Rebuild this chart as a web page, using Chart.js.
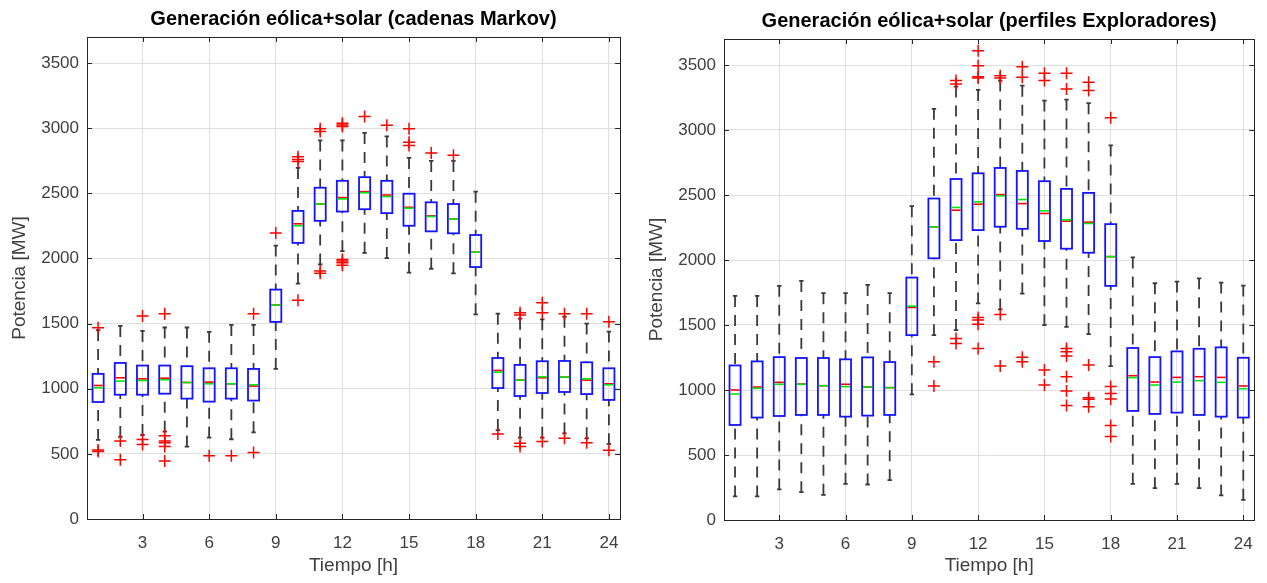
<!DOCTYPE html>
<html>
<head>
<meta charset="utf-8">
<script src="https://cdn.jsdelivr.net/npm/chart.js@4.4.0/dist/chart.umd.min.js"></script>
<style>
    body { margin: 0; background: #fff; }
    #wrap { position: relative; width: 1267px; height: 583px; }
    canvas { position: absolute; top: 0; }
</style>
</head>
<body>
<div id="wrap">
    <canvas id="chartMarkov" width="633" height="583" style="left:0"></canvas>
    <canvas id="chartExpl" width="634" height="583" style="left:633px"></canvas>
</div>
<script>
// horas y ticks
var hours = [1, 2, 3, 4, 5, 6, 7, 8, 9, 10, 11, 12, 13, 14, 15, 16, 17, 18, 19, 20, 21, 22, 23, 24];
var xTicks = [3, 6, 9, 12, 15, 18, 21, 24];
var yTicks = [0, 500, 1000, 1500, 2000, 2500, 3000, 3500];

// cadenas Markov
var mkQ1 = [898, 954, 954, 962, 924, 901, 924, 909, 1513, 2119, 2289, 2360, 2378, 2348, 2251, 2208, 2193, 1934, 1005, 944, 967, 975, 959, 914];
var mkQ3 = [1114, 1198, 1178, 1178, 1173, 1157, 1157, 1152, 1761, 2365, 2543, 2596, 2624, 2596, 2497, 2431, 2418, 2180, 1236, 1183, 1211, 1213, 1203, 1157];
var mkMed = [1025, 1084, 1076, 1081, 1048, 1051, 1038, 1020, 1642, 2266, 2419, 2467, 2513, 2487, 2393, 2327, 2302, 2048, 1140, 1066, 1084, 1089, 1066, 1038];
var mkMean = [1008, 1058, 1063, 1069, 1048, 1038, 1038, 1030, 1642, 2251, 2419, 2457, 2505, 2475, 2386, 2322, 2302, 2048, 1127, 1066, 1091, 1089, 1076, 1030];
var mkLo = [607, 630, 645, 670, 556, 624, 612, 665, 1152, 1807, 1954, 2056, 2043, 2003, 1891, 1921, 1886, 1571, 683, 624, 624, 657, 619, 574];
var mkHi = [1450, 1482, 1444, 1470, 1470, 1437, 1490, 1490, 2099, 2695, 2906, 2906, 2964, 2937, 2772, 2749, 2749, 2513, 1576, 1538, 1533, 1553, 1500, 1439];
var mkOut = [
    [1468, 530, 518], [599, 454], [1558, 610, 572], [1576, 640, 598, 586, 556, 445],
    [], [485], [485], [1576, 510], [2195], [2780, 2760, 2745, 1680],
    [2995, 2975, 1904, 1886], [3038, 3025, 3013, 1992, 1980, 1967, 1947], [3089], [3023],
    [2995, 2893, 2868], [2810], [2792], [], [652], [1584, 1566, 581, 556],
    [1660, 1584, 594], [1576, 619], [1576, 586], [1515, 528]
];

// perfiles Exploradores
var exQ1 = [731, 788, 800, 808, 808, 795, 803, 808, 1422, 2013, 2153, 2230, 2256, 2240, 2146, 2087, 2056, 1801, 839, 816, 826, 808, 795, 788];
var exQ3 = [1189, 1220, 1253, 1246, 1246, 1236, 1251, 1215, 1865, 2473, 2623, 2667, 2708, 2685, 2606, 2547, 2516, 2276, 1323, 1253, 1297, 1317, 1328, 1248];
var exMed = [1000, 1023, 1059, 1046, 1033, 1044, 1023, 1018, 1635, 2255, 2383, 2429, 2503, 2434, 2358, 2299, 2291, 2026, 1110, 1061, 1097, 1102, 1097, 1031];
var exMean = [969, 1013, 1044, 1044, 1033, 1026, 1023, 1018, 1645, 2255, 2404, 2447, 2493, 2465, 2378, 2309, 2281, 2026, 1095, 1038, 1061, 1072, 1059, 1010];
var exLo = [181, 181, 235, 214, 194, 278, 273, 306, 967, 1422, 1461, 1666, 1620, 1742, 1499, 1486, 1430, 1184, 278, 245, 278, 245, 189, 155];
var exHi = [1724, 1724, 1801, 1839, 1745, 1745, 1808, 1745, 2414, 3163, 3334, 3308, 3380, 3341, 3226, 3234, 3206, 2881, 2020, 1821, 1834, 1859, 1826, 1803];
var exOut = [
    [], [], [], [], [], [], [], [], [], [1218, 1031],
    [3380, 3354, 1397, 1358], [3610, 3495, 3410, 3400, 1558, 1538, 1505, 1320],
    [3418, 3400, 1581, 1184], [3487, 3405, 1251, 1218], [3436, 3380, 1154, 1038],
    [3436, 3316, 1320, 1294, 1261, 1102, 992, 880], [3367, 3303, 1192, 941, 928, 872],
    [3094, 1026, 974, 931, 726, 642], [], [], [], [], [], []
];

var FONT = "'Liberation Sans', Arial, sans-serif";
var AXIS_COLOR = '#262626';
var TEXT_COLOR = '#404040';

// cajas, bigotes, mediana y media
var boxPlugin = {
    id: 'boxes',
    beforeDatasetsDraw: function (chart, args, opts) {
        var ctx = chart.ctx, xs = chart.scales.x, ys = chart.scales.y;
        ctx.save();
        hours.forEach(function (h, i) {
            var xc = xs.getPixelForValue(h);
            var xl = xs.getPixelForValue(h - 0.25), xr = xs.getPixelForValue(h + 0.25);
            var cl = xs.getPixelForValue(h - 0.1), cr = xs.getPixelForValue(h + 0.1);
            var yq1 = ys.getPixelForValue(opts.q1[i]), yq3 = ys.getPixelForValue(opts.q3[i]);
            var ylo = ys.getPixelForValue(opts.lo[i]), yhi = ys.getPixelForValue(opts.hi[i]);
            // bigotes
            ctx.strokeStyle = '#3a3a3a';
            ctx.lineWidth = 1.8;
            ctx.setLineDash([11, 8]);
            ctx.beginPath();
            ctx.moveTo(xc, yhi); ctx.lineTo(xc, yq3);
            ctx.moveTo(xc, ylo); ctx.lineTo(xc, yq1);
            ctx.stroke();
            ctx.setLineDash([]);
            ctx.beginPath();
            ctx.moveTo(cl, yhi); ctx.lineTo(cr, yhi);
            ctx.moveTo(cl, ylo); ctx.lineTo(cr, ylo);
            ctx.stroke();
            // caja
            ctx.strokeStyle = 'rgb(20,20,255)';
            ctx.lineWidth = 1.8;
            ctx.strokeRect(xl, yq3, xr - xl, yq1 - yq3);
            // mediana
            var ym = ys.getPixelForValue(opts.med[i]);
            ctx.lineWidth = 1.6;
            ctx.strokeStyle = 'rgb(255,0,0)';
            ctx.beginPath(); ctx.moveTo(xl + 1, ym); ctx.lineTo(xr - 1, ym); ctx.stroke();
            // media
            var ya = ys.getPixelForValue(opts.mean[i]);
            ctx.strokeStyle = 'rgb(0,235,0)';
            ctx.beginPath(); ctx.moveTo(xl + 1, ya); ctx.lineTo(xr - 1, ya); ctx.stroke();
        });
        ctx.restore();
    },
    afterDraw: function (chart) {
        var ctx = chart.ctx, a = chart.chartArea, xs = chart.scales.x, ys = chart.scales.y;
        ctx.save();
        ctx.strokeStyle = AXIS_COLOR;
        ctx.lineWidth = 1;
        ctx.strokeRect(Math.round(a.left) + 0.5, Math.round(a.top) + 0.5, Math.round(a.right - a.left), Math.round(a.bottom - a.top));
        ctx.beginPath();
        xTicks.forEach(function (t) {
            var x = Math.round(xs.getPixelForValue(t)) + 0.5;
            ctx.moveTo(x, a.bottom); ctx.lineTo(x, a.bottom - 5);
            ctx.moveTo(x, a.top); ctx.lineTo(x, a.top + 5);
        });
        yTicks.forEach(function (t) {
            var y = Math.round(ys.getPixelForValue(t)) + 0.5;
            ctx.moveTo(a.left, y); ctx.lineTo(a.left + 5, y);
            ctx.moveTo(a.right, y); ctx.lineTo(a.right - 5, y);
        });
        ctx.stroke();
        ctx.restore();
    }
};

function outlierPoints(outs) {
    var pts = [];
    outs.forEach(function (list, i) {
        list.forEach(function (v) { pts.push({ x: hours[i], y: v }); });
    });
    return pts;
}

function makeChart(id, titleText, q1, q3, med, mean, lo, hi, outs, lay) {
    return new Chart(document.getElementById(id), {
        type: 'scatter',
        data: {
            datasets: [{
                data: outlierPoints(outs),
                pointStyle: 'cross',
                pointRadius: 6,
                borderColor: 'rgb(255,0,0)',
                backgroundColor: 'rgb(255,0,0)',
                borderWidth: 1.5
            }]
        },
        options: {
            responsive: false,
            animation: false,
            events: [],
            layout: { padding: { left: 0, right: lay.right, top: 0, bottom: 0 } },
            plugins: {
                legend: { display: false },
                tooltip: { enabled: false },
                title: {
                    display: true,
                    text: titleText,
                    fullSize: false,
                    color: '#000',
                    font: { family: FONT, size: 20, weight: 'bold' },
                    padding: { top: lay.titleTop, bottom: lay.titleBottom }
                },
                boxes: { q1: q1, q3: q3, med: med, mean: mean, lo: lo, hi: hi }
            },
            scales: {
                x: {
                    type: 'linear',
                    min: 0.5,
                    max: 24.5,
                    afterBuildTicks: function (s) { s.ticks = xTicks.map(function (v) { return { value: v }; }); },
                    afterFit: function (s) { s.height = lay.xHeight; },
                    grid: { color: '#dfdfdf', drawTicks: false },
                    border: { display: false },
                    ticks: { color: TEXT_COLOR, padding: 14, font: { family: FONT, size: 17 }, callback: function (v) { return String(v); } },
                    title: { display: true, text: 'Tiempo [h]', color: TEXT_COLOR, font: { family: FONT, size: 19 }, padding: { top: 0, bottom: 6 } }
                },
                y: {
                    min: 0,
                    max: 3700,
                    afterBuildTicks: function (s) { s.ticks = yTicks.map(function (v) { return { value: v }; }); },
                    afterFit: function (s) { s.width = lay.yWidth; },
                    grid: { color: '#dfdfdf', drawTicks: false },
                    border: { display: false },
                    ticks: { color: TEXT_COLOR, padding: 8, font: { family: FONT, size: 17 }, callback: function (v) { return String(v); } },
                    title: { display: true, text: 'Potencia [MW]', color: TEXT_COLOR, font: { family: FONT, size: 19 }, padding: { top: lay.yTitlePad, bottom: 0 } }
                }
            }
        },
        plugins: [boxPlugin]
    });
}

makeChart('chartMarkov', 'Generación eólica+solar (cadenas Markov)',
    mkQ1, mkQ3, mkMed, mkMean, mkLo, mkHi, mkOut,
    { right: 13, titleTop: 7, titleBottom: 6, xHeight: 64, yWidth: 87, yTitlePad: 8 });
makeChart('chartExpl', 'Generación eólica+solar (perfiles Exploradores)',
    exQ1, exQ3, exMed, exMean, exLo, exHi, exOut,
    { right: 10, titleTop: 9, titleBottom: 6, xHeight: 63, yWidth: 91, yTitlePad: 12 });
</script>
</body>
</html>
